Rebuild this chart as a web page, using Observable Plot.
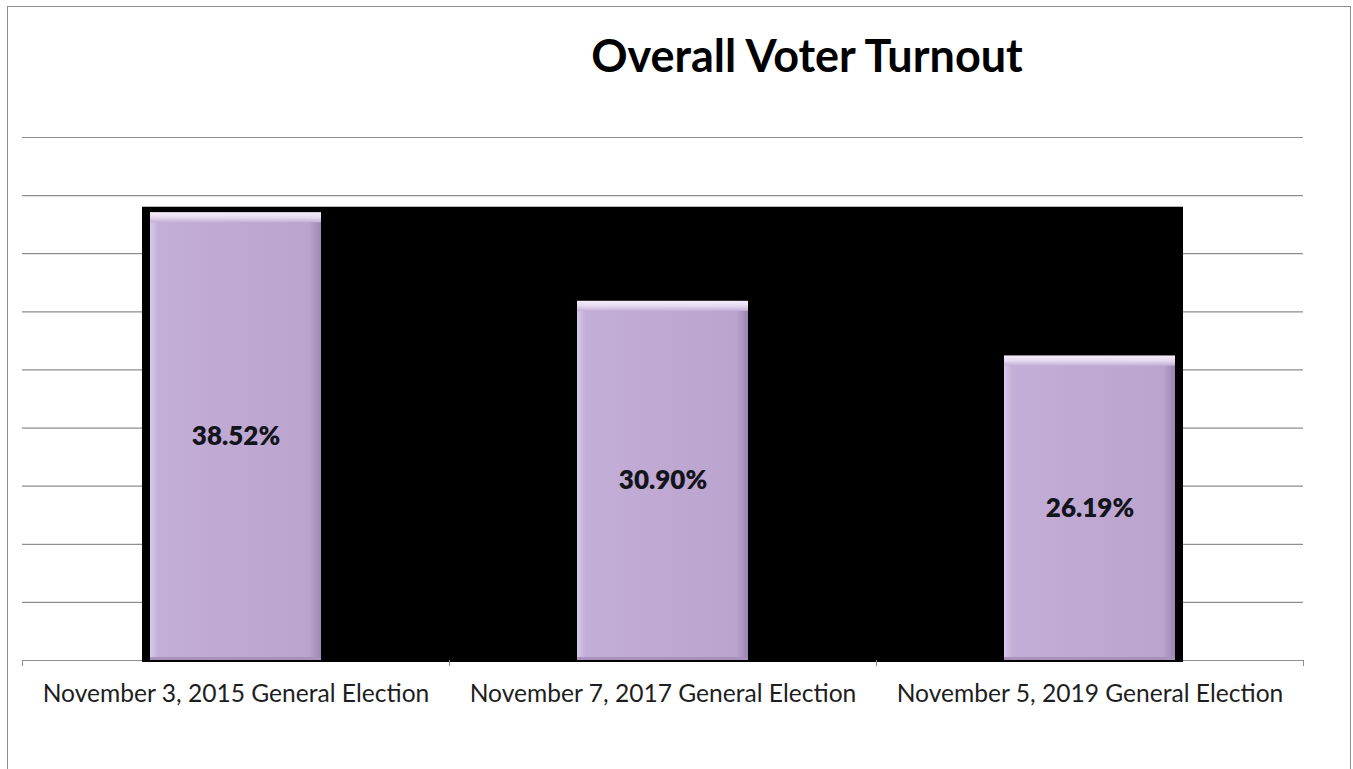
<!DOCTYPE html>
<html><head><meta charset="utf-8">
<script src="https://cdn.jsdelivr.net/npm/d3@7"></script>
<script src="https://cdn.jsdelivr.net/npm/@observablehq/plot@0.6"></script>
<style>
body{margin:0;background:#fff;font-family:Lato,"Open Sans",sans-serif;overflow:hidden}
#frame{position:absolute;left:7px;top:6px;width:1344px;height:820px;border:1.5px solid #8f8f8f;box-sizing:border-box;pointer-events:none}
#title{position:absolute;left:0;top:0;width:1353px;height:100px;box-sizing:border-box;padding-left:261px;padding-top:33px;text-align:center;font-weight:700;font-size:45px;line-height:1;color:#000}
#chart{position:absolute;left:0;top:100px}
</style></head><body>
<div id="title">Overall Voter Turnout</div>
<div id="chart"></div>
<div id="frame"></div>
<script>
const categories = ["November 3, 2015 General Election", "November 7, 2017 General Election", "November 5, 2019 General Election"];
const turnout = [38.52, 30.90, 26.19];
const yMax = 45;
const gridStep = 5;
const wallTop = 39;

const data = categories.map((c, i) => ({category: c, turnout: turnout[i]}));

const W = 1353, H = 669;
const mL = 22, mR = 50, mT = 37, mB = 109;
const band = (W - mL - mR) / categories.length;
const barInset = 128;
const grid = "#8e8e8e";

const defs = () => {
  const d = d3.create("svg:defs");
  const body = d.append("linearGradient").attr("id", "barBody").attr("x1", 0).attr("x2", 1).attr("y1", 0).attr("y2", 0);
  [[0, "#d8c9e7"], [0.05, "#c3aed7"], [0.5, "#bfa9d3"], [0.93, "#bba5cf"], [1, "#9c87b1"]].forEach(([o, c]) =>
    body.append("stop").attr("offset", o).attr("stop-color", c));
  const top = d.append("linearGradient").attr("id", "barTop").attr("x1", 0).attr("x2", 0).attr("y1", 0).attr("y2", 1);
  [[0, "#f6eefb"], [0.5, "#e6d9f1"], [1, "#c4b0d8"]].forEach(([o, c]) =>
    top.append("stop").attr("offset", o).attr("stop-color", c));
  return d.node();
};

const chart = Plot.plot({
  width: W, height: H,
  marginLeft: mL, marginRight: mR, marginTop: mT, marginBottom: mB,
  style: {fontFamily: "Lato, 'Open Sans', sans-serif", background: "transparent"},
  x: {domain: categories, padding: 0, label: null},
  y: {domain: [0, yMax], axis: null},
  marks: [
    defs,
    Plot.gridY({interval: gridStep, stroke: grid, strokeOpacity: 1, strokeWidth: 1.2}),
    // black back wall
    Plot.barY(data.slice(0, 1), {x: "category", y1: 0, y2: () => wallTop, fill: "#000", insetLeft: 120, insetRight: 0, insetBottom: -2}),
    Plot.barY(data.slice(1, -1), {x: "category", y1: 0, y2: () => wallTop, fill: "#000", insetLeft: 0, insetRight: 0, insetBottom: -2}),
    Plot.barY(data.slice(-1), {x: "category", y1: 0, y2: () => wallTop, fill: "#000", insetLeft: 0, insetRight: 120, insetBottom: -2}),
    // bars
    Plot.barY(data, {x: "category", y: "turnout", fill: "url(#barBody)", insetLeft: barInset, insetRight: barInset}),
    Plot.barY(data, {x: "category", y1: "turnout", y2: "turnout", fill: "url(#barTop)", insetLeft: barInset, insetRight: barInset, insetBottom: -10}),
    Plot.barY(data, {x: "category", y1: 0, y2: 0, fill: "#a892bd", insetLeft: barInset, insetRight: barInset, insetTop: -3}),
    // value labels
    Plot.text(data, {x: "category", y: d => d.turnout / 2, text: d => d.turnout.toFixed(2) + "%", fontSize: 26, fontWeight: 800, fill: "#14141c"}),
    // boundary ticks
    Plot.ruleX(data, {x: "category", y1: 0, y2: 0, insetBottom: -6, dx: -band / 2, stroke: grid}),
    Plot.ruleX(data.slice(-1), {x: "category", y1: 0, y2: 0, insetBottom: -6, dx: band / 2, stroke: grid}),
    Plot.axisX({tickSize: 0, tickPadding: 24, fontSize: 24.6, color: "#1e1e1e", label: null})
  ]
});
document.getElementById("chart").appendChild(chart);
</script>
</body></html>
